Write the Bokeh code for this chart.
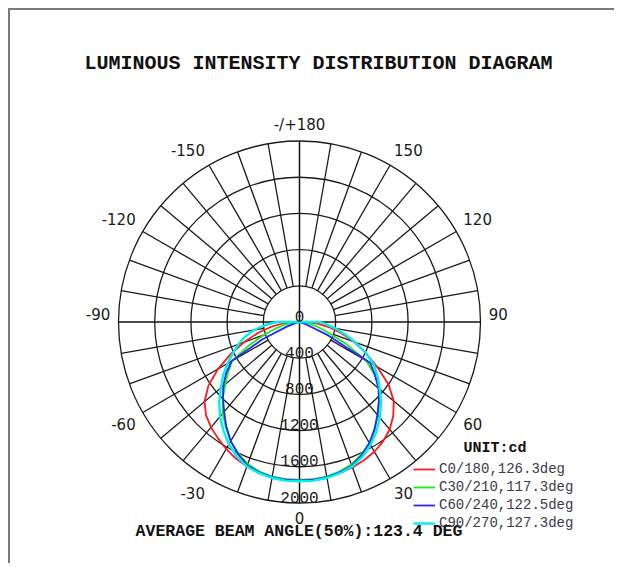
import math
from bokeh.plotting import figure
from bokeh.models import ColumnDataSource, BoxAnnotation, Label, Legend, LegendItem
from bokeh.core.properties import value, field
from bokeh.embed import file_html
from bokeh.resources import INLINE

# ---------------- data (cd) ----------------
gamma_deg = [0, 5, 10, 15, 20, 25, 30, 35, 40, 45,
             50, 55, 60, 65, 70, 75, 80, 85, 90, 95]

c0_right  = [1745, 1745, 1740, 1730, 1710, 1685, 1655, 1610, 1550, 1465,
             1360, 1200, 990, 810, 640, 480, 340, 200, 80, 0]
c180_left = [1745, 1745, 1740, 1725, 1700, 1665, 1620, 1570, 1520, 1460,
             1370, 1230, 1040, 840, 650, 480, 330, 190, 60, 0]
c30_right = [1745, 1745, 1735, 1710, 1675, 1615, 1545, 1450, 1345, 1240,
             1150, 1010, 850, 560, 330, 210, 110, 40, 0, 0]
c210_left = [1745, 1745, 1735, 1710, 1670, 1600, 1520, 1420, 1320, 1200,
             1070, 960, 860, 620, 420, 270, 160, 60, 0, 0]
c60_right = [1750, 1750, 1740, 1720, 1690, 1625, 1545, 1445, 1340, 1240,
             1140, 1020, 900, 350, 80, 0, 0, 0, 0, 0]
c240_left = [1750, 1750, 1740, 1720, 1685, 1610, 1520, 1410, 1295, 1195,
             1100, 990, 870, 450, 150, 30, 0, 0, 0, 0]
c90_right = [1760, 1760, 1750, 1730, 1700, 1645, 1570, 1480, 1380, 1275,
             1160, 1055, 950, 810, 660, 520, 400, 300, 230, 0]
c270_left = [1760, 1760, 1750, 1730, 1700, 1640, 1560, 1465, 1365, 1255,
             1135, 1030, 920, 810, 720, 620, 510, 380, 250, 0]

legend_labels = ["C0/180,126.3deg", "C30/210,117.3deg",
                 "C60/240,122.5deg", "C90/270,127.3deg"]
series_colors = ["#ff1a1a", "#1aee1a", "#2525ff", "#00f0f0"]

ring_values = [400, 800, 1200, 1600, 2000]
radial_tick_values = [0, 400, 800, 1200, 1600, 2000]
radial_tick_labels = ["0", "400", "800", "1200", "1600", "2000"]
spoke_step = 10

angle_ticks = [0, 30, 60, 90, 120, 150, 180, -150, -120, -90, -60, -30]
angle_tick_labels = ["0", "30", "60", "90", "120", "150", "-/+180",
                     "-150", "-120", "-90", "-60", "-30"]

title_text = "LUMINOUS INTENSITY DISTRIBUTION DIAGRAM"
unit_text = "UNIT:cd"
beam_text = "AVERAGE BEAM ANGLE(50%):123.4 DEG"

# ---------------- layout ----------------
W, H = 614, 563
PX = 181.0 / 2000.0          # pixels per cd
CX, CY = 299.0, 321.5        # pole position on canvas (px from left / top)
R_MAX = max(ring_values)
R_LABEL = 2090

p = figure(width=W, height=H,
           x_range=(-CX / PX, (W - CX) / PX),
           y_range=(-(H - CY) / PX, CY / PX),
           output_backend="svg", toolbar_location=None,
           x_axis_type=None, y_axis_type=None,
           min_border=0, outline_line_color=None,
           background_fill_color="white", border_fill_color="white")

GRID = "#1a1a1a"

# rings
p.circle(x=[0] * len(ring_values), y=[0] * len(ring_values), radius=ring_values,
         fill_color=None, line_color=GRID, line_width=1.3)

# spokes (every 10 deg, from the inner ring outwards)
sx0, sy0, sx1, sy1 = [], [], [], []
for a in range(0, 360, spoke_step):
    if a % 90 == 0:
        continue
    t = math.radians(a)
    sx0.append(ring_values[0] * math.sin(t)); sy0.append(-ring_values[0] * math.cos(t))
    sx1.append(R_MAX * math.sin(t)); sy1.append(-R_MAX * math.cos(t))
p.segment(x0=sx0, y0=sy0, x1=sx1, y1=sy1, line_color=GRID, line_width=1.3)

# main axes through the pole
p.segment(x0=[-R_MAX, 0], y0=[0, -R_MAX], x1=[R_MAX, 0], y1=[0, R_MAX],
          line_color="#111111", line_width=1.5)

# curves
halves = [(c180_left, c0_right), (c210_left, c30_right),
          (c240_left, c60_right), (c270_left, c90_right)]
renderers = []
for (left, right), col in zip(halves, series_colors):
    xs, ys = [], []
    for g, v in zip(reversed(gamma_deg), reversed(left)):
        t = math.radians(g)
        xs.append(-v * math.sin(t)); ys.append(-v * math.cos(t))
    for g, v in zip(gamma_deg, right):
        t = math.radians(g)
        xs.append(v * math.sin(t)); ys.append(-v * math.cos(t))
    lw = 2.4 if col == series_colors[-1] else 1.8
    r = p.line(xs, ys, line_color=col, line_width=lw, line_join="round")
    renderers.append(r)

# radial value labels
p.text(x=[0] * len(radial_tick_values), y=[-v for v in radial_tick_values],
       text=radial_tick_labels, text_font=value("Liberation Mono"),
       text_font_size="16px", text_color="#1a1a1a",
       text_align="center", text_baseline="middle", y_offset=-6)

# angle labels
ax, ay, aal, aoff = [], [], [], []
for a in angle_ticks:
    t = math.radians(a)
    x = R_LABEL * math.sin(t); y = -R_LABEL * math.cos(t)
    ax.append(x); ay.append(y)
    aal.append("center" if abs(x) < 1 else ("left" if x > 0 else "right"))
    aoff.append(7 if abs(a) < 90 else -8)
asrc = ColumnDataSource(dict(x=ax, y=ay, text=angle_tick_labels, align=aal, off=aoff))
p.text(x="x", y="y", text="text", source=asrc, text_font=value("DejaVu Sans"),
       text_font_size="15px", text_color="#1a1a1a",
       text_align=field("align"), text_baseline="middle", y_offset=field("off"))

# legend
legend = Legend(items=[LegendItem(label=lab, renderers=[r])
                       for lab, r in zip(legend_labels, renderers)],
                location=(413, H - 532), orientation="vertical",
                label_text_font="Liberation Mono", label_text_font_size="14px",
                label_text_color="#3a3a4a", glyph_width=22, glyph_height=18,
                label_height=18, label_standoff=4, spacing=0, padding=0, margin=0,
                border_line_color=None, background_fill_alpha=0)
p.add_layout(legend)

# texts
p.add_layout(Label(x=318, y=H - 63, x_units="screen", y_units="screen", text=title_text,
                   text_font="Liberation Mono", text_font_style="bold", text_font_size="20px",
                   text_color="#111111", text_align="center", text_baseline="middle"))
p.add_layout(Label(x=494.5, y=H - 448, x_units="screen", y_units="screen", text=unit_text,
                   text_font="Liberation Mono", text_font_style="bold", text_font_size="15px",
                   text_color="#111111", text_align="center", text_baseline="middle"))
p.add_layout(Label(x=298.5, y=H - 531, x_units="screen", y_units="screen", text=beam_text,
                   text_font="Liberation Mono", text_font_style="bold", text_font_size="16.5px",
                   text_color="#111111", text_align="center", text_baseline="middle"))

# page frame: left and top edges only
x0 = p.x_range.start
y1 = p.y_range.end
p.add_layout(BoxAnnotation(left=x0 + 7.5 / PX, right=x0 + 9.5 / PX,
                           top=y1 - 7.5 / PX, bottom=None,
                           fill_color="#7a7a7a", fill_alpha=1, line_color=None,
                           level="underlay"))
p.add_layout(BoxAnnotation(left=x0 + 7.5 / PX, right=None,
                           top=y1 - 7.5 / PX, bottom=y1 - 9.5 / PX,
                           fill_color="#7a7a7a", fill_alpha=1, line_color=None,
                           level="underlay"))

open("out.html", "w").write(file_html(p, INLINE))
